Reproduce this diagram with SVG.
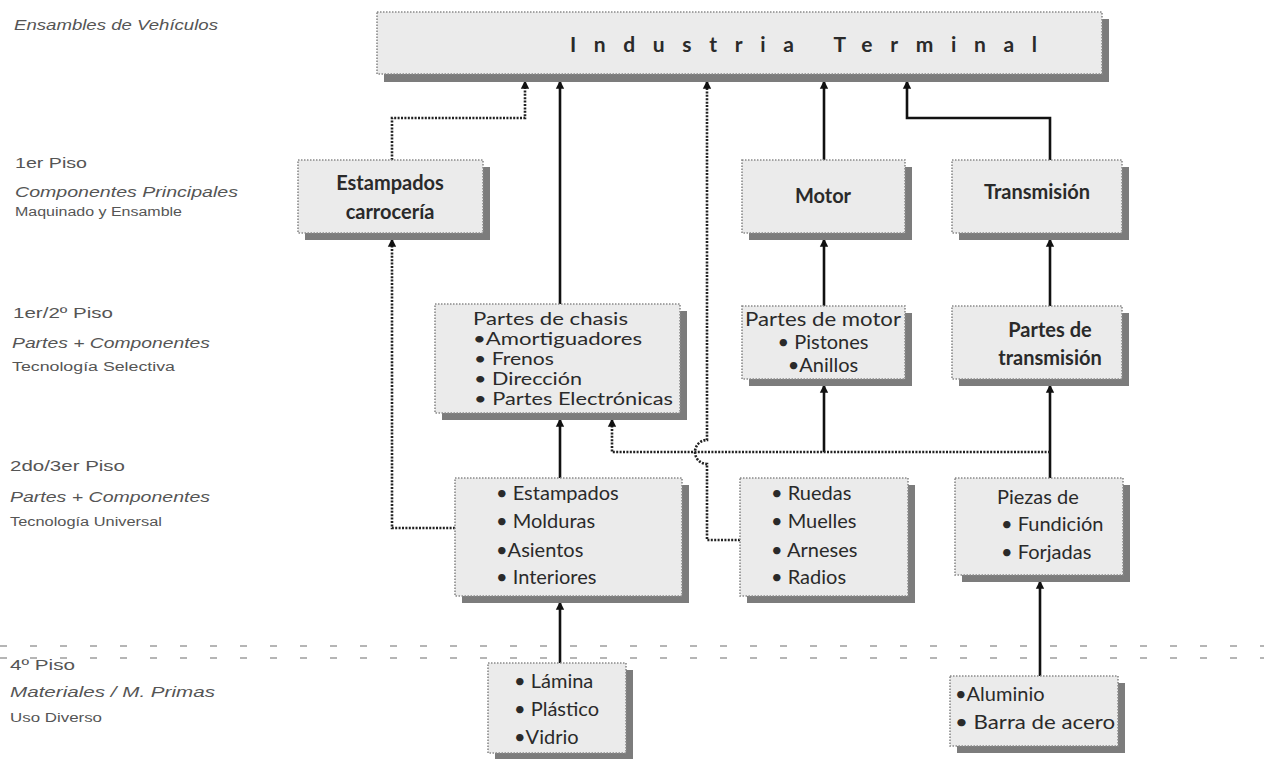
<svg xmlns="http://www.w3.org/2000/svg" width="1264" height="759" viewBox="0 0 1264 759">
<defs>
<style>
.sh{fill:#7c7c7c}
.bx{fill:#ebebeb;stroke:#8a8a8a;stroke-width:1.6;stroke-dasharray:1.5 1.5}
.t{font-family:Lato,"Open Sans","Liberation Sans",sans-serif;font-size:20px;fill:#2a2a2a}
.tc{font-family:Lato,"Open Sans","Liberation Sans",sans-serif;font-size:17px;fill:#2a2a2a}
.tb{font-family:Lato,"Open Sans","Liberation Sans",sans-serif;font-size:20px;font-weight:bold;fill:#2a2a2a}
.lab{font-family:"Liberation Sans",Arial,sans-serif;font-size:15px;fill:#555}
.labi{font-family:"Liberation Sans",Arial,sans-serif;font-size:15px;font-style:italic;fill:#555}
.labs{font-family:"Liberation Sans",Arial,sans-serif;font-size:12px;fill:#555}
.c{fill:none;stroke:#111;stroke-width:2.6}
.cd{fill:none;stroke:#222;stroke-width:2.6;stroke-dasharray:2 1.4}
.sep{stroke:#b5b5b5;stroke-width:2;stroke-dasharray:7 23}
</style>
<marker id="a" viewBox="0 0 10 10" refX="8" refY="5" markerWidth="3.2" markerHeight="3.6" orient="auto-start-reverse" markerUnits="strokeWidth">
<path d="M0,0 L10,5 L0,10 Z" fill="#111"/>
</marker>
</defs>
<rect width="1264" height="759" fill="#fff"/>

<g id="labels">
<text class="labi" x="14" y="30" textLength="204" lengthAdjust="spacingAndGlyphs">Ensambles de Vehículos</text>
<text class="lab" x="15" y="168" textLength="72" lengthAdjust="spacingAndGlyphs">1er Piso</text>
<text class="labi" x="15" y="197" textLength="223" lengthAdjust="spacingAndGlyphs">Componentes Principales</text>
<text class="labs" x="15" y="216" textLength="167" lengthAdjust="spacingAndGlyphs">Maquinado y Ensamble</text>
<text class="lab" x="13" y="318" textLength="100" lengthAdjust="spacingAndGlyphs">1er/2º Piso</text>
<text class="labi" x="12" y="348" textLength="198" lengthAdjust="spacingAndGlyphs">Partes + Componentes</text>
<text class="labs" x="12" y="371" textLength="163" lengthAdjust="spacingAndGlyphs">Tecnología Selectiva</text>
<text class="lab" x="10" y="471" textLength="115" lengthAdjust="spacingAndGlyphs">2do/3er Piso</text>
<text class="labi" x="10" y="502" textLength="200" lengthAdjust="spacingAndGlyphs">Partes + Componentes</text>
<text class="labs" x="10" y="526" textLength="152" lengthAdjust="spacingAndGlyphs">Tecnología Universal</text>
<text class="lab" x="10" y="670" textLength="65" lengthAdjust="spacingAndGlyphs">4º Piso</text>
<text class="labi" x="10" y="697" textLength="205" lengthAdjust="spacingAndGlyphs">Materiales / M. Primas</text>
<text class="labs" x="10" y="722" textLength="92" lengthAdjust="spacingAndGlyphs">Uso Diverso</text>
</g>

<g id="separator">
<line class="sep" x1="0" y1="646" x2="1264" y2="646"/>
<line class="sep" x1="0" y1="658" x2="1264" y2="658"/>
</g>

<g id="connectors">
<path class="cd" d="M392,160 V118 H525 V82" marker-end="url(#a)"/>
<path class="c" d="M560,304 V82" marker-end="url(#a)"/>
<path class="cd" d="M740,540 H707 V464 A12,12 0 0 1 707,440 V82" marker-end="url(#a)"/>
<path class="c" d="M824,160 V82" marker-end="url(#a)"/>
<path class="c" d="M1050,160 V118 H907 V82" marker-end="url(#a)"/>
<path class="c" d="M824,306 V240" marker-end="url(#a)"/>
<path class="c" d="M1050,306 V240" marker-end="url(#a)"/>
<path class="cd" d="M455,528 H392 V240" marker-end="url(#a)"/>
<path class="c" d="M560,478 V420" marker-end="url(#a)"/>
<path class="c" d="M1050,478 V386" marker-end="url(#a)"/>
<path class="c" d="M824,452 V386" marker-end="url(#a)"/>
<path class="cd" d="M1050,452 H612 V420" marker-end="url(#a)"/>
<path class="c" d="M560,663 V603" marker-end="url(#a)"/>
<path class="c" d="M1040,676 V582" marker-end="url(#a)"/>
</g>

<g id="industria">
<rect class="sh" x="384" y="19" width="725" height="63"/>
<rect class="bx" x="377" y="12" width="725" height="62"/>
<text class="tb" x="570" y="52" textLength="467" lengthAdjust="spacing" style="font-size:21px">Industria Terminal</text>
</g>

<g id="estampados-carroceria">
<rect class="sh" x="305" y="167" width="185" height="73"/>
<rect class="bx" x="298" y="160" width="185" height="73"/>
<text class="tb" x="390" y="190" text-anchor="middle">Estampados</text>
<text class="tb" x="390" y="219" text-anchor="middle">carrocería</text>
</g>

<g id="motor">
<rect class="sh" x="749" y="167" width="163" height="73"/>
<rect class="bx" x="742" y="160" width="163" height="73"/>
<text class="tb" x="823" y="203" text-anchor="middle">Motor</text>
</g>

<g id="transmision">
<rect class="sh" x="959" y="167" width="170" height="73"/>
<rect class="bx" x="952" y="160" width="170" height="73"/>
<text class="tb" x="1037" y="199" text-anchor="middle">Transmisión</text>
</g>

<g id="partes-chasis">
<rect class="sh" x="442" y="311" width="245" height="109"/>
<rect class="bx" x="435" y="304" width="245" height="109"/>
<text class="tc" x="473" y="325" textLength="155" lengthAdjust="spacingAndGlyphs">Partes de chasis</text>
<text class="tc" x="473" y="345" textLength="169" lengthAdjust="spacingAndGlyphs">•Amortiguadores</text>
<text class="tc" x="474" y="365" textLength="80" lengthAdjust="spacingAndGlyphs">• Frenos</text>
<text class="tc" x="474" y="385" textLength="108" lengthAdjust="spacingAndGlyphs">• Dirección</text>
<text class="tc" x="474" y="405" textLength="199" lengthAdjust="spacingAndGlyphs">• Partes Electrónicas</text>
</g>

<g id="partes-motor">
<rect class="sh" x="749" y="313" width="163" height="73"/>
<rect class="bx" x="742" y="306" width="163" height="73"/>
<text class="t" x="823" y="326" text-anchor="middle" textLength="156" lengthAdjust="spacingAndGlyphs">Partes de motor</text>
<text class="t" x="823" y="349" text-anchor="middle">• Pistones</text>
<text class="t" x="823" y="372" text-anchor="middle">•Anillos</text>
</g>

<g id="partes-transmision">
<rect class="sh" x="959" y="313" width="170" height="73"/>
<rect class="bx" x="952" y="306" width="170" height="73"/>
<text class="tb" x="1050" y="337" text-anchor="middle">Partes de</text>
<text class="tb" x="1050" y="365" text-anchor="middle">transmisión</text>
</g>

<g id="estampados">
<rect class="sh" x="462" y="485" width="227" height="118"/>
<rect class="bx" x="455" y="478" width="227" height="118"/>
<text class="t" x="496" y="500">• Estampados</text>
<text class="t" x="496" y="528">• Molduras</text>
<text class="t" x="496" y="557">•Asientos</text>
<text class="t" x="496" y="584">• Interiores</text>
</g>

<g id="ruedas">
<rect class="sh" x="747" y="485" width="168" height="118"/>
<rect class="bx" x="740" y="478" width="168" height="118"/>
<text class="t" x="771" y="500">• Ruedas</text>
<text class="t" x="771" y="528">• Muelles</text>
<text class="t" x="771" y="557">• Arneses</text>
<text class="t" x="771" y="584">• Radios</text>
</g>

<g id="piezas">
<rect class="sh" x="962" y="485" width="168" height="97"/>
<rect class="bx" x="955" y="478" width="168" height="97"/>
<text class="t" x="997" y="504">Piezas de</text>
<text class="t" x="1001" y="531">• Fundición</text>
<text class="t" x="1001" y="559">• Forjadas</text>
</g>

<g id="lamina">
<rect class="sh" x="495" y="670" width="138" height="90"/>
<rect class="bx" x="488" y="663" width="138" height="90"/>
<text class="t" x="514" y="688">• Lámina</text>
<text class="t" x="514" y="716">• Plástico</text>
<text class="t" x="514" y="744">•Vidrio</text>
</g>

<g id="aluminio">
<rect class="sh" x="957" y="683" width="168" height="70"/>
<rect class="bx" x="950" y="676" width="168" height="70"/>
<text class="t" x="955" y="701">•Aluminio</text>
<text class="t" x="955" y="729" textLength="160" lengthAdjust="spacingAndGlyphs">• Barra de acero</text>
</g>
</svg>
